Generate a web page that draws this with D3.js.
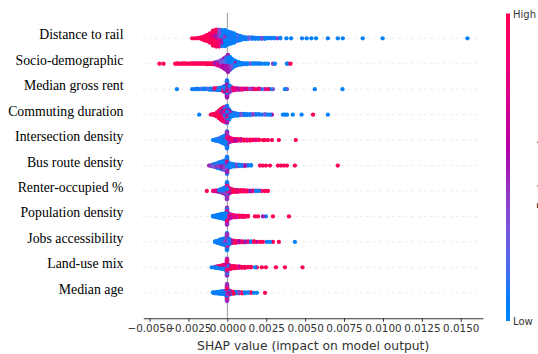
<!DOCTYPE html>
<html><head><meta charset="utf-8">
<script src="https://cdn.jsdelivr.net/npm/d3@7"></script>
<style>html,body{margin:0;padding:0;background:#fff;overflow:hidden}</style>
</head><body><svg id="c" width="538" height="354"></svg>
<script>
// ---------- DATA ----------
const features = ["Distance to rail","Socio-demographic","Median gross rent","Commuting duration",
  "Intersection density","Bus route density","Renter-occupied %","Population density",
  "Jobs accessibility","Land-use mix","Median age"];
const xTicks = [-0.005,-0.0025,0,0.0025,0.005,0.0075,0.01,0.0125,0.015];
const xLabel = "SHAP value (impact on model output)";
const colorbarLabels = ["High","Low"];
const colorbarTitle = "Feature value";
// each entry: [SHAP value, feature value (0 = low, 1 = high), number of observations]
const distanceToRail = [[-0.00226,1,1],[-0.00207,1,1],[-0.00188,0.95,2],[-0.00169,1,4],[-0.00149,0.95,9],[-0.0013,1,14],[-0.00111,0.9,20],[-0.00092,1,26],[-0.00092,0.6,6],[-0.00072,0.95,24],[-0.00072,0.5,12],[-0.00053,0.85,18],[-0.00053,0.35,18],[-0.00034,0.5,12],[-0.00034,0.1,22],[-0.00015,0.05,30],[-0.00015,0.45,4],[0.00005,0.05,26],[0.00005,0.4,2],[0.00024,0.1,24],[0.00043,0.05,20],[0.00062,0.15,14],[0.00081,0.05,10],[0.001,0.1,6],[0.0012,0.05,5],[0.0014,0.25,4],[0.0016,0.05,4],[0.0018,0.1,3],[0.002,0.05,3],[0.0022,0.35,3],[0.0024,0.05,3],[0.0026,0.05,2],[0.0028,0.1,2],[0.003,0.05,2],[0.0032,0.45,1],[0.0034,0.05,2],[0.0038,0.05,1],[0.0041,0.05,1],[0.0048,0.1,1],[0.0051,0.05,1],[0.0054,0.05,1],[0.0057,0.05,1],[0.00646,0.05,1],[0.0071,0.05,1],[0.00742,0.05,1],[0.0087,0.05,1],[0.00998,0.05,1],[0.01543,0.05,1]];
const socioDemographic = [[-0.00436,1,1],[-0.0041,0.95,1],[-0.00335,1,1],[-0.00319,1,2],[-0.00303,0.95,1],[-0.00287,1,2],[-0.00271,1,2],[-0.00255,0.95,1],[-0.00239,1,2],[-0.00223,1,2],[-0.00207,0.9,2],[-0.00191,1,2],[-0.00175,1,2],[-0.00159,0.95,2],[-0.00143,1,2],[-0.00127,0.9,3],[-0.00111,1,3],[-0.00095,0.85,3],[-0.00079,0.8,3],[-0.00079,0.5,3],[-0.0006,0.7,5],[-0.0006,0.4,5],[-0.0004,0.6,8],[-0.0004,0.3,8],[-0.00021,0.55,14],[-0.00021,0.2,10],[-0.00008,0.5,18],[-0.00008,0.15,12],[0.00004,0.5,24],[0.00004,0.1,16],[0.00017,0.4,14],[0.00017,0.05,16],[0.0003,0.3,8],[0.0003,0.05,14],[0.00049,0.05,12],[0.00049,0.5,2],[0.00069,0.05,8],[0.00088,0.05,5],[0.00107,0.1,3],[0.00126,0.05,3],[0.00146,0.3,2],[0.00165,0.05,2],[0.00184,0.05,2],[0.00203,0.1,2],[0.00222,0.05,1],[0.00242,0.05,1],[0.00261,0.05,1],[0.00293,0.4,1],[0.00306,0.05,1],[0.00383,0.05,1],[0.00389,0.4,1],[0.00406,1,1]];
const medianGrossRent = [[-0.00324,0.05,1],[-0.00226,0.1,1],[-0.0021,0.05,1],[-0.00194,0.1,2],[-0.00178,0.05,1],[-0.00162,0.15,2],[-0.00146,0.05,2],[-0.0013,0.2,2],[-0.00114,0.05,3],[-0.00098,0.1,3],[-0.00082,0.1,2],[-0.00082,0.9,2],[-0.00066,0.05,3],[-0.00066,0.8,2],[-0.0005,0.1,4],[-0.0005,0.6,2],[-0.00034,0.9,4],[-0.00034,0.1,4],[-0.00018,0.5,8],[-0.00018,0.05,6],[-0.00002,0.5,16],[-0.00002,0.1,16],[-0.00002,0.9,8],[0.00014,0.4,8],[0.00014,0.05,8],[0.0003,0.8,5],[0.0003,0.1,3],[0.00046,0.8,5],[0.00062,0.7,4],[0.00078,0.5,3],[0.00094,0.85,3],[0.0011,0.6,2],[0.00126,0.9,2],[0.00146,0.4,2],[0.00165,0.7,2],[0.00184,1,1],[0.00203,0.8,2],[0.00222,0.15,1],[0.00242,0.7,1],[0.00261,0.9,1],[0.00274,0.05,1],[0.00293,0.3,1],[0.0037,0.05,1],[0.00383,0.3,1],[0.00562,0.05,1],[0.0074,0.05,1]];
const commutingDuration = [[-0.00181,0.05,1],[-0.00106,1,1],[-0.00092,0.95,2],[-0.00079,1,5],[-0.00066,0.9,10],[-0.00053,1,12],[-0.00053,0.6,6],[-0.0004,0.95,16],[-0.0004,0.5,10],[-0.00028,0.9,18],[-0.00028,0.5,14],[-0.00015,0.8,16],[-0.00015,0.4,12],[-0.00015,0.1,8],[-0.00002,0.5,14],[-0.00002,0.1,18],[-0.00002,0.9,8],[0.00011,0.1,14],[0.00011,0.5,10],[0.00024,0.05,8],[0.00024,0.4,4],[0.00037,0.05,8],[0.00053,0.1,6],[0.00069,0.05,5],[0.00088,0.3,4],[0.00107,0.05,4],[0.00126,0.1,3],[0.00146,0.05,3],[0.00165,0.4,2],[0.00184,0.05,2],[0.00203,0.1,2],[0.00222,0.05,1],[0.00242,0.3,2],[0.00261,0.05,1],[0.00274,0.05,1],[0.00287,0.5,1],[0.00357,0.05,1],[0.0037,0.1,1],[0.00383,0.05,1],[0.00421,0.05,1],[0.00477,0.05,1],[0.00551,1,1],[0.00646,0.05,1]];
const intersectionDensity = [[-0.00092,0.05,1],[-0.00079,0.1,3],[-0.00066,0.05,5],[-0.00053,0.15,8],[-0.0004,0.05,12],[-0.00028,0.1,12],[-0.00028,0.4,4],[-0.00015,0.05,14],[-0.00015,0.3,6],[-0.00002,0.1,18],[-0.00002,0.45,16],[-0.00002,0.8,6],[0.00011,0.5,6],[0.00011,0.8,6],[0.00024,0.6,4],[0.00024,0.9,4],[0.00037,0.8,6],[0.00053,0.6,3],[0.00053,1,2],[0.00069,0.9,4],[0.00088,0.7,4],[0.00107,1,3],[0.00126,0.8,3],[0.00146,0.95,3],[0.00165,1,2],[0.00184,0.8,2],[0.00203,1,2],[0.00229,1,1],[0.00242,1,1],[0.00261,1,1],[0.00287,1,1],[0.00331,1,1],[0.0044,1,1]];
const busRouteDensity = [[-0.00117,0.5,1],[-0.00104,0.4,2],[-0.00104,0.1,1],[-0.00092,0.3,3],[-0.00092,0.05,2],[-0.00079,0.5,4],[-0.00079,0.1,4],[-0.00066,0.4,5],[-0.00066,0.05,6],[-0.00053,0.3,6],[-0.00053,0.1,8],[-0.0004,0.5,8],[-0.0004,0.05,9],[-0.00028,0.4,10],[-0.00028,0.1,10],[-0.00015,0.3,10],[-0.00015,0.05,12],[-0.00002,0.5,16],[-0.00002,0.1,18],[-0.00002,0.9,6],[0.00011,0.05,12],[0.00024,0.1,6],[0.00024,0.5,2],[0.0004,0.05,6],[0.00056,0.4,5],[0.00075,0.05,4],[0.00094,0.1,3],[0.00113,0.5,3],[0.00133,0.05,2],[0.00152,0.05,2],[0.0021,1,1],[0.00229,1,1],[0.00248,1,1],[0.00274,1,1],[0.00325,1,1],[0.00344,1,1],[0.00363,1,1],[0.00383,1,1],[0.00434,1,1],[0.0071,1,1]];
const renterOccupied = [[-0.00132,1,1],[-0.00092,0.85,1],[-0.00079,0.8,2],[-0.00066,0.6,3],[-0.00053,0.5,3],[-0.00053,0.1,2],[-0.0004,0.4,4],[-0.0004,0.05,4],[-0.00028,0.5,6],[-0.00028,0.1,6],[-0.00015,0.4,8],[-0.00015,0.05,8],[-0.00002,0.45,16],[-0.00002,0.05,16],[-0.00002,0.9,8],[0.00011,0.6,8],[0.00011,0.9,6],[0.00024,0.85,5],[0.00024,0.5,3],[0.00037,1,6],[0.00053,0.9,3],[0.00053,0.5,2],[0.00069,0.8,5],[0.00088,1,4],[0.00107,0.9,4],[0.00126,1,3],[0.00146,0.5,3],[0.00165,0.9,2],[0.00184,0.05,2],[0.00203,0.1,1],[0.00203,1,1],[0.00222,0.9,1],[0.00242,1,1],[0.00261,1,1]];
const populationDensity = [[-0.00092,0.05,2],[-0.00079,0.1,4],[-0.00066,0.05,6],[-0.00053,0.1,8],[-0.0004,0.05,10],[-0.00028,0.1,10],[-0.00028,0.4,2],[-0.00015,0.05,10],[-0.00015,0.5,4],[-0.00002,0.45,18],[-0.00002,0.1,14],[-0.00002,0.85,8],[0.00011,0.5,8],[0.00011,0.8,4],[0.00024,0.6,4],[0.00024,0.9,4],[0.0004,0.9,6],[0.00056,0.7,5],[0.00075,1,4],[0.00094,0.9,4],[0.00113,1,3],[0.00133,0.95,2],[0.00178,1,1],[0.00197,1,1],[0.00229,0.5,1],[0.00248,0.1,1],[0.00293,1,1],[0.00396,1,1]];
const jobsAccessibility = [[-0.00079,0.05,2],[-0.00066,0.1,5],[-0.00053,0.05,8],[-0.0004,0.1,12],[-0.00028,0.05,14],[-0.00015,0.1,12],[-0.00015,0.4,4],[-0.00002,0.05,18],[-0.00002,0.45,14],[-0.00002,0.9,8],[0.00011,0.1,8],[0.00011,0.5,6],[0.00024,0.5,5],[0.00024,0.9,3],[0.0004,1,6],[0.00056,0.9,5],[0.00075,0.6,4],[0.00094,1,3],[0.00113,0.5,2],[0.00113,0.1,1],[0.00133,0.9,2],[0.00152,0.05,2],[0.00171,1,2],[0.0019,0.6,1],[0.0021,1,1],[0.00229,1,1],[0.00254,0.05,1],[0.00274,0.05,1],[0.00293,1,1],[0.00331,1,1],[0.00434,0.05,1]];
const landUseMix = [[-0.001,0.05,1],[-0.00079,0.1,2],[-0.00079,0.9,1],[-0.00066,0.05,3],[-0.00066,0.8,2],[-0.00053,0.1,3],[-0.00053,0.9,3],[-0.0004,0.05,4],[-0.0004,0.8,4],[-0.00028,0.1,5],[-0.00028,0.9,5],[-0.00015,0.05,6],[-0.00015,0.7,6],[-0.00002,0.45,16],[-0.00002,0.9,14],[-0.00002,0.1,10],[0.00011,0.8,6],[0.00011,0.5,4],[0.00024,1,7],[0.0004,0.9,6],[0.00056,1,5],[0.00075,0.7,4],[0.00094,1,3],[0.00113,0.9,3],[0.00133,1,2],[0.00152,0.95,2],[0.00178,0.05,1],[0.0019,1,1],[0.00222,1,1],[0.00248,1,1],[0.00312,1,1],[0.0037,1,1],[0.00483,1,1]];
const medianAge = [[-0.00092,0.05,2],[-0.00079,0.1,3],[-0.00066,0.05,4],[-0.00053,0.1,5],[-0.0004,0.05,6],[-0.00028,0.1,7],[-0.00015,0.05,6],[-0.00015,0.5,3],[-0.00002,0.45,18],[-0.00002,0.9,12],[-0.00002,0.1,10],[0.00011,0.5,6],[0.00011,0.05,4],[0.00024,0.1,4],[0.00024,0.9,3],[0.0004,1,5],[0.00056,0.05,4],[0.00075,0.4,4],[0.00094,1,3],[0.00113,0.05,3],[0.00133,0.1,2],[0.00152,1,2],[0.00171,0.05,1],[0.0019,0.05,1],[0.00242,1,1]];
const rowData = [distanceToRail, socioDemographic, medianGrossRent, commutingDuration,
  intersectionDensity, busRouteDensity, renterOccupied, populationDensity,
  jobsAccessibility, landUseMix, medianAge];

// ---------- CHART ----------
const svg = d3.select("#c");
const x = d3.scaleLinear().domain([-0.0054, 0.01643]).range([143.3, 483]);
const y = d3.scalePoint().domain(features).range([38.3, 292.8]).padding(0);
const step = y.step();
const yTop = y(features[0]) - step, yBottom = y(features[features.length-1]) + step;

// SHAP-style red/blue colormap (LCh path: blue -> purple -> red, darker in the middle)
function redBlue(t) {
  t = Math.max(0, Math.min(1, t));
  const h = 266.93 + t * (380.32 - 266.93);
  const c = 70 + 20 * t;
  const l = t < 0.5 ? 54 - 28 * t : 40 + 28 * (t - 0.5);
  return d3.hcl(h % 360, c, l).formatHex();
}
const color = d3.scaleSequential(redBlue).domain([0, 1]);

// dotted row guides
svg.append("g").selectAll("line").data(features).join("line")
  .attr("x1", x.range()[0]).attr("x2", x.range()[1])
  .attr("y1", d => y(d)).attr("y2", d => y(d))
  .attr("stroke", "#c8c8c8").attr("stroke-width", 0.8).attr("stroke-dasharray", "1.2,5.2");

// zero line
svg.append("line").attr("x1", x(0)).attr("x2", x(0)).attr("y1", yTop).attr("y2", yBottom)
  .attr("stroke", "#999").attr("stroke-width", 1);

// beeswarm layout (shap style binning)
function swarm(triples) {
  const vals = triples.map(t => t[0]);
  const lo = d3.min(vals), hi = d3.max(vals);
  const q = v => Math.round(100 * (v - lo) / (hi - lo));
  const bins = d3.group(triples, t => q(t[0]));
  const keys = Array.from(bins.keys()).sort((a, b) => a - b);
  const pts = [];
  for (const k of keys) {
    const list = bins.get(k).map(t => ({t, left: t[2]}));
    let layer = 0, any = true;
    while (any) {
      any = false;
      for (const e of list) {
        if (e.left > 0) {
          e.left--; any = true;
          const off = Math.ceil(layer / 2) * ((layer % 2) * 2 - 1);
          pts.push({v: e.t[0], fv: e.t[1], off});
          layer++;
        }
      }
    }
  }
  const maxOff = d3.max(pts, p => p.off);
  const s = 0.9 * 0.4 / (maxOff + 1);
  pts.forEach((p, i) => { p.dy = p.off * s; p.ord = (i * 0.6180339887) % 1; });
  return pts.sort((a, b) => a.ord - b.ord);
}

const dots = svg.append("g");
features.forEach((f, i) => {
  const pts = swarm(rowData[i]);
  dots.append("g").selectAll("circle").data(pts).join("circle")
    .attr("cx", d => x(d.v))
    .attr("cy", d => y(f) - d.dy * step)
    .attr("r", 2.15)
    .attr("fill", d => color(d.fv));
});

// y labels
svg.append("g").selectAll("text").data(features).join("text")
  .attr("x", 123.5).attr("y", d => y(d) + 1)
  .attr("text-anchor", "end")
  .attr("font-family", "'Liberation Serif', 'Times New Roman', serif")
  .attr("font-size", 13.8).attr("fill", "#000")
  .text(d => d);

// x axis
const ax = svg.append("g").attr("transform", `translate(0,${yBottom})`)
  .call(d3.axisBottom(x).tickValues(xTicks).tickFormat(d3.format(".4f")).tickSize(3.5).tickSizeOuter(0).tickPadding(3));
ax.select(".domain").attr("stroke", "#333").attr("stroke-width", 1);
ax.selectAll(".tick line").attr("stroke", "#333");
ax.selectAll(".tick text").attr("fill", "#333").attr("font-family", "'DejaVu Sans', sans-serif").attr("font-size", 10.4);

svg.append("text").attr("x", (x.range()[0] + x.range()[1]) / 2).attr("y", 350)
  .attr("text-anchor", "middle").attr("font-family", "'DejaVu Sans', sans-serif")
  .attr("font-size", 12.3).attr("fill", "#333").text(xLabel);

// colorbar
const defs = svg.append("defs");
const grad = defs.append("linearGradient").attr("id", "cb").attr("x1", 0).attr("y1", 1).attr("x2", 0).attr("y2", 0);
d3.range(0, 1.0001, 0.05).forEach(t => grad.append("stop").attr("offset", t).attr("stop-color", color(t)));
const cbTop = 13.5, cbBottom = 321;
svg.append("rect").attr("x", 506).attr("y", cbTop).attr("width", 4).attr("height", cbBottom - cbTop).attr("fill", "url(#cb)");
svg.append("text").attr("x", 513).attr("y", 18.3).attr("font-family", "'DejaVu Sans', sans-serif")
  .attr("font-size", 10).attr("fill", "#333").text(colorbarLabels[0]);
svg.append("text").attr("x", 513).attr("y", 324.5).attr("font-family", "'DejaVu Sans', sans-serif")
  .attr("font-size", 10).attr("fill", "#333").text(colorbarLabels[1]);
svg.append("text").attr("transform", `translate(546,${(cbTop + cbBottom) / 2}) rotate(-90)`)
  .attr("text-anchor", "middle").attr("font-family", "'DejaVu Sans', sans-serif")
  .attr("font-size", 12.3).attr("fill", "#333").text(colorbarTitle);
</script>
</body></html>
